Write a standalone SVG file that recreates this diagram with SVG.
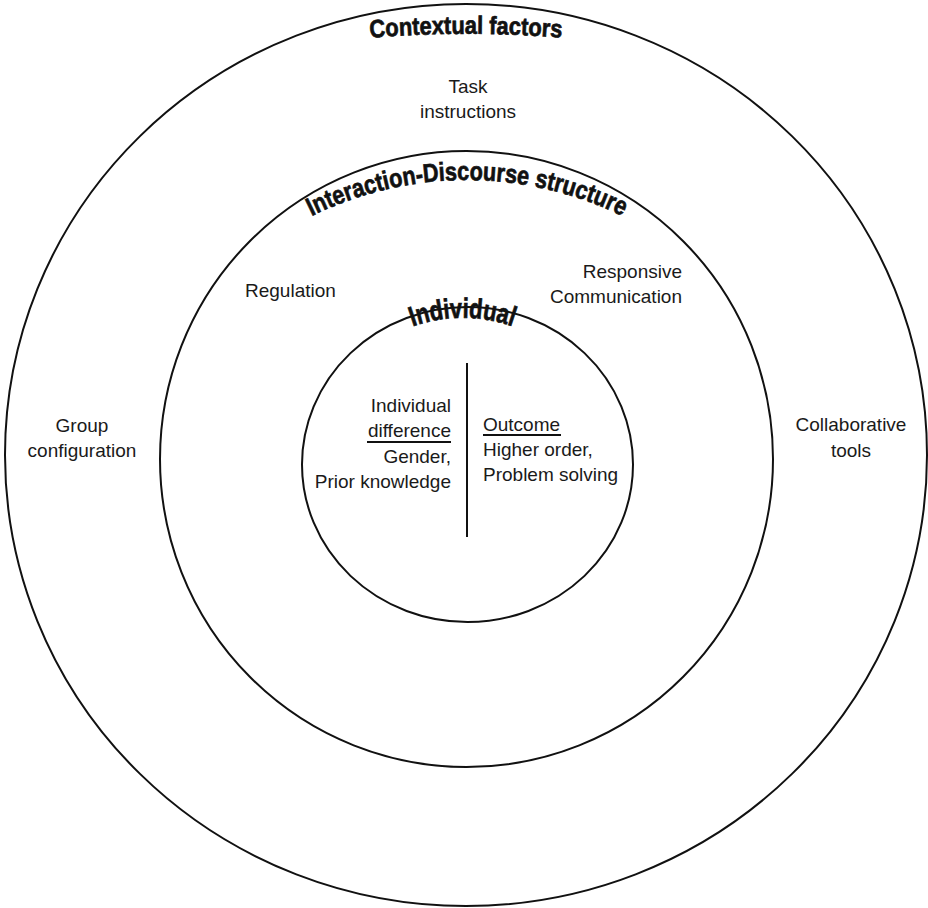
<svg xmlns="http://www.w3.org/2000/svg" xmlns:xlink="http://www.w3.org/1999/xlink" width="928" height="908" viewBox="0 0 928 908">
<style>
.ring{fill:none;stroke:#111;stroke-width:2}
.lbl{font-family:"Liberation Sans",Arial,sans-serif;font-size:19px;fill:#1a1a1a}
.head{font-family:"Liberation Sans",Arial,sans-serif;font-weight:bold;fill:#111;stroke:#111;stroke-width:0.7}
.rule{stroke:#111;stroke-width:2}
</style>
<defs>
<path id="arcOuter" d="M 366 38 A 1200 1200 0 0 1 566 38"/>
<path id="arcMiddle" d="M 265.1 243.7 A 352 352 0 0 1 668.9 243.7"/>
<path id="arcInner" d="M 387.5 338 A 150 150 0 0 1 537.5 338"/>
</defs>
<rect width="928" height="908" fill="#fff"/>
<g id="contextual-factors">
<ellipse class="ring" cx="466" cy="455" rx="461" ry="451"/>
<text class="head" font-size="25" text-anchor="middle"><textPath xlink:href="#arcOuter" href="#arcOuter" startOffset="50%" textLength="192" lengthAdjust="spacingAndGlyphs">Contextual factors</textPath></text>
<text class="lbl" text-anchor="middle"><tspan x="468" y="93">Task</tspan><tspan x="468" y="118">instructions</tspan></text>
<text class="lbl" text-anchor="middle"><tspan x="82" y="432">Group</tspan><tspan x="82" y="457">configuration</tspan></text>
<text class="lbl" text-anchor="middle"><tspan x="851" y="431">Collaborative</tspan><tspan x="851" y="457">tools</tspan></text>
</g>
<g id="interaction-discourse">
<ellipse class="ring" cx="466.5" cy="459" rx="306.5" ry="308"/>
<text class="head" font-size="26" text-anchor="middle"><textPath xlink:href="#arcMiddle" href="#arcMiddle" startOffset="50%" textLength="322" lengthAdjust="spacingAndGlyphs">Interaction-Discourse structure</textPath></text>
<text class="lbl" x="245" y="297">Regulation</text>
<text class="lbl" text-anchor="end"><tspan x="682" y="278">Responsive</tspan><tspan x="682" y="303">Communication</tspan></text>
</g>
<g id="individual">
<ellipse class="ring" cx="467.5" cy="464.5" rx="165.5" ry="157.5"/>
<text class="head" font-size="28" text-anchor="middle"><textPath xlink:href="#arcInner" href="#arcInner" startOffset="50%" textLength="102" lengthAdjust="spacingAndGlyphs">Individual</textPath></text>
<line class="rule" x1="467" y1="363" x2="467" y2="537"/>
<text class="lbl" text-anchor="end"><tspan x="451" y="412">Individual</tspan><tspan x="451" y="437">difference</tspan><tspan x="451" y="463">Gender,</tspan><tspan x="451" y="488">Prior knowledge</tspan></text>
<line class="rule" x1="367" y1="442" x2="451" y2="442"/>
<text class="lbl"><tspan x="483" y="431">Outcome</tspan><tspan x="483" y="456">Higher order,</tspan><tspan x="483" y="481">Problem solving</tspan></text>
<line class="rule" x1="483" y1="435" x2="561" y2="435"/>
</g>
<g id="connectors"></g>
</svg>
